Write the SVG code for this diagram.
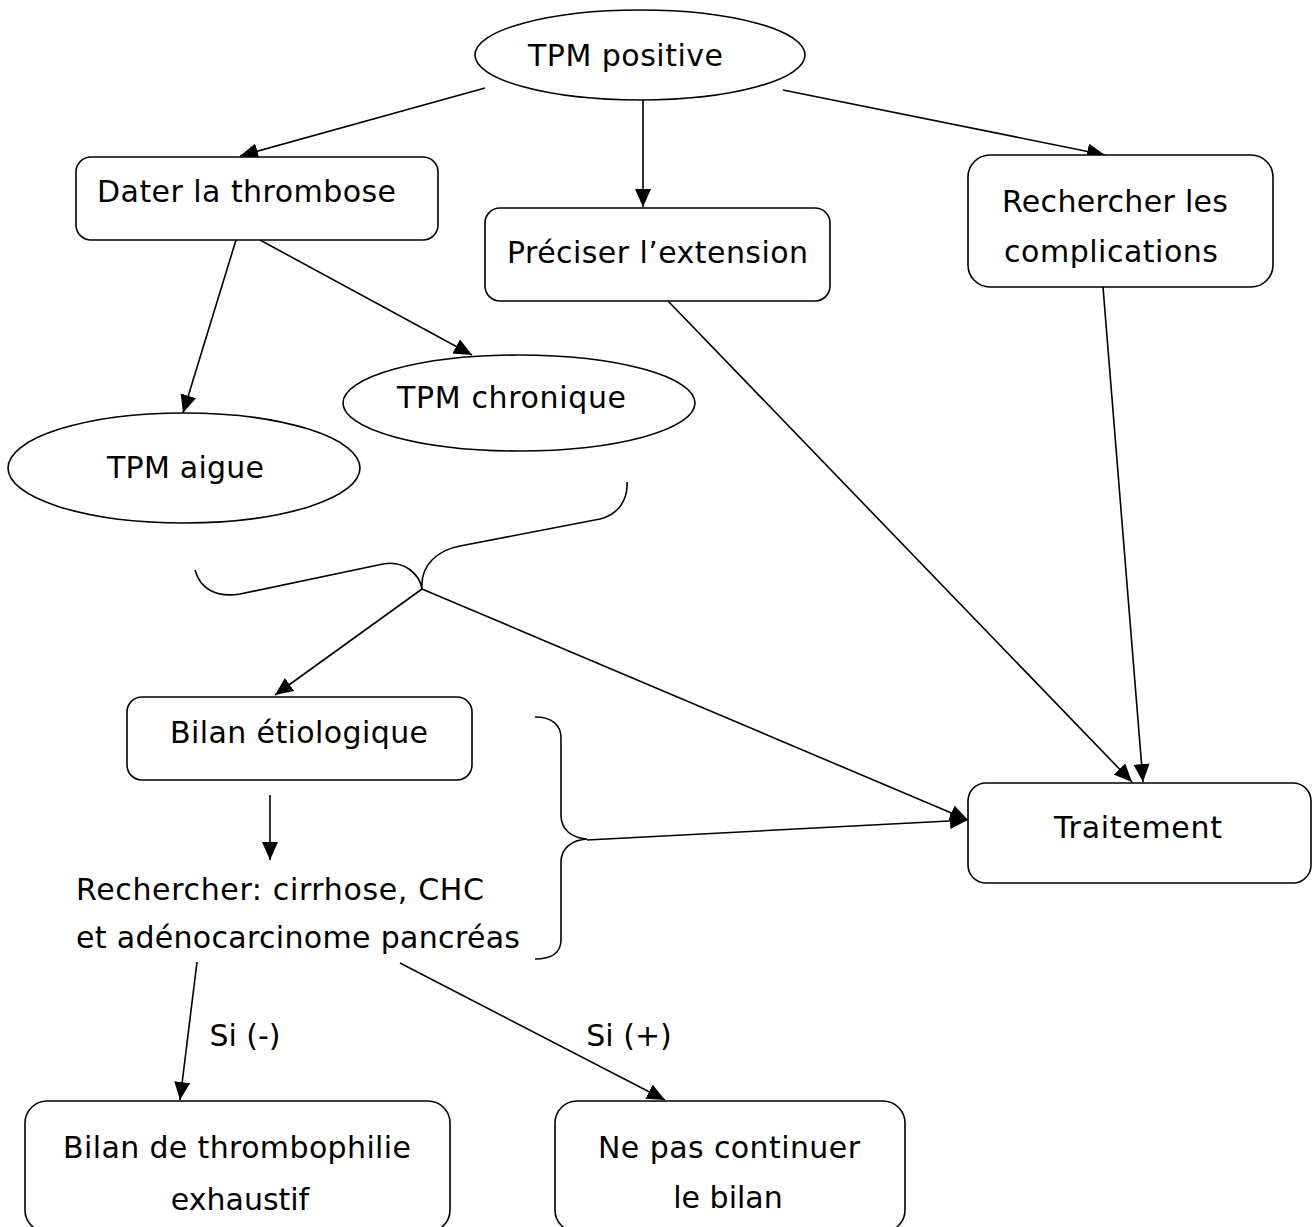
<svg xmlns="http://www.w3.org/2000/svg" width="1316" height="1227" viewBox="0 0 1316 1227">
<defs>
<style>
.n{fill:#fff;stroke:#000;stroke-width:1.6}
.t{font-family:"DejaVu Sans","Liberation Sans",sans-serif;font-size:30px;fill:#000}
.m{text-anchor:middle}
.c{fill:none;stroke:#000;stroke-width:1.6}
</style>
<marker id="ah" markerUnits="userSpaceOnUse" markerWidth="20" markerHeight="16" refX="18" refY="8" orient="auto">
<path d="M0,0 L18,8 L0,16 Z" fill="#000"/>
</marker>
</defs>
<rect width="1316" height="1227" fill="#fff"/>
<g id="connectors">
<line class="c" x1="485" y1="88" x2="240" y2="156" marker-end="url(#ah)"/>
<line class="c" x1="643" y1="100" x2="643" y2="207" marker-end="url(#ah)"/>
<line class="c" x1="783" y1="90" x2="1105" y2="155" marker-end="url(#ah)"/>
<line class="c" x1="236" y1="240" x2="183" y2="413" marker-end="url(#ah)"/>
<line class="c" x1="260" y1="240" x2="472" y2="355" marker-end="url(#ah)"/>
<path class="c" d="M195,570 C200,588 215,598 240,594 L383,564 C405,560 420,575 422,589 C420,565 438,550 460,546 L600,519 C620,514 628,498 627,482"/>
<line class="c" x1="422" y1="589" x2="275" y2="695" marker-end="url(#ah)"/>
<line class="c" x1="422" y1="589" x2="968" y2="820" marker-end="url(#ah)"/>
<line class="c" x1="668" y1="301" x2="1132" y2="782" marker-end="url(#ah)"/>
<line class="c" x1="1103" y1="287" x2="1143" y2="782" marker-end="url(#ah)"/>
<line class="c" x1="270" y1="795" x2="270" y2="860" marker-end="url(#ah)"/>
<path class="c" d="M535,717 C552,717 561,725 561,738 L561,815 C561,830 572,838 587,839 C572,840 561,848 561,862 L561,940 C561,952 552,959 535,959"/>
<line class="c" x1="587" y1="840" x2="968" y2="820" marker-end="url(#ah)"/>
<line class="c" x1="197" y1="962" x2="180" y2="1100" marker-end="url(#ah)"/>
<line class="c" x1="400" y1="963" x2="665" y2="1100" marker-end="url(#ah)"/>
<text class="t m" x="245" y="1046">Si (-)</text>
<text class="t m" x="629" y="1046">Si (+)</text>
</g>
<g id="tpm-positive">
<ellipse class="n" cx="640" cy="55" rx="165" ry="45"/>
<text class="t" x="528" y="66" textLength="195">TPM positive</text>
</g>
<g id="dater">
<rect class="n" x="76" y="157" width="362" height="83" rx="15"/>
<text class="t" x="97" y="202" textLength="299">Dater la thrombose</text>
</g>
<g id="preciser">
<rect class="n" x="485" y="208" width="345" height="93" rx="15"/>
<text class="t" x="507" y="263" textLength="301">Préciser l’extension</text>
</g>
<g id="complications">
<rect class="n" x="968" y="155" width="305" height="132" rx="22"/>
<text class="t" x="1002" y="212" textLength="226">Rechercher les</text>
<text class="t" x="1004" y="262" textLength="214">complications</text>
</g>
<g id="tpm-chronique">
<ellipse class="n" cx="519" cy="403" rx="176" ry="48"/>
<text class="t" x="397" y="408" textLength="229">TPM chronique</text>
</g>
<g id="tpm-aigue">
<ellipse class="n" cx="184" cy="468" rx="176" ry="55"/>
<text class="t" x="107" y="478" textLength="157">TPM aigue</text>
</g>
<g id="bilan-etiologique">
<rect class="n" x="127" y="697" width="345" height="83" rx="15"/>
<text class="t" x="170" y="743" textLength="258">Bilan étiologique</text>
</g>
<g id="rechercher">
<text class="t" x="76" y="900" textLength="408">Rechercher: cirrhose, CHC</text>
<text class="t" x="76" y="948" textLength="444">et adénocarcinome pancréas</text>
</g>
<g id="traitement">
<rect class="n" x="968" y="783" width="343" height="100" rx="18"/>
<text class="t" x="1054" y="838" textLength="168">Traitement</text>
</g>
<g id="thrombophilie">
<rect class="n" x="25" y="1101" width="425" height="131" rx="22"/>
<text class="t" x="63" y="1158" textLength="348">Bilan de thrombophilie</text>
<text class="t m" x="240" y="1210">exhaustif</text>
</g>
<g id="ne-pas-continuer">
<rect class="n" x="555" y="1101" width="350" height="131" rx="22"/>
<text class="t" x="598" y="1158" textLength="262">Ne pas continuer</text>
<text class="t m" x="728" y="1208">le bilan</text>
</g>
</svg>
